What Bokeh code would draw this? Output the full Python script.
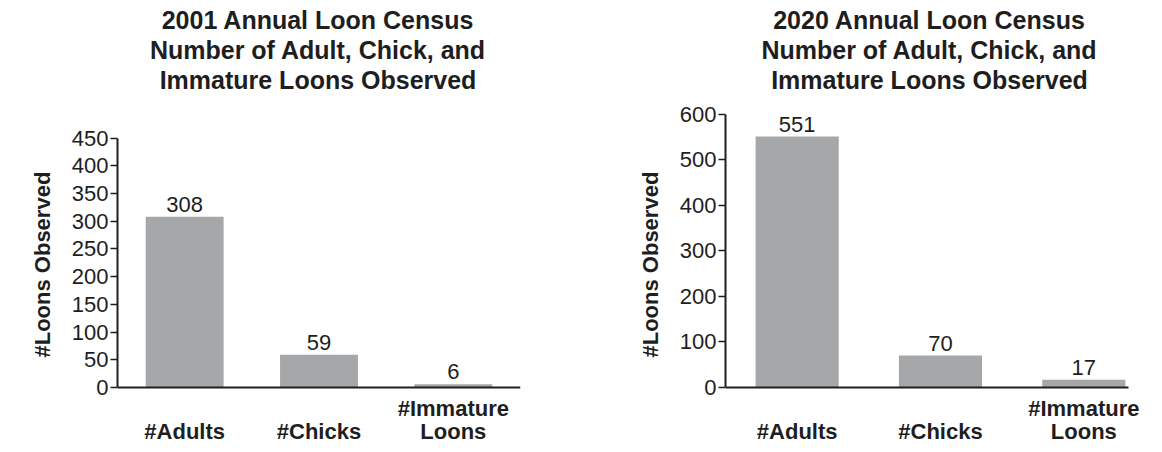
from bokeh.plotting import figure
from bokeh.layouts import row
from bokeh.models import Range1d, FactorRange, SingleIntervalTicker, Title
from bokeh.core.properties import value
from bokeh.embed import file_html
from bokeh.resources import INLINE

categories = ["#Adults", "#Chicks", "#Immature Loons"]
label_line1 = ["", "", "#Immature"]
label_line2 = ["#Adults", "#Chicks", "Loons"]
counts_2001 = [308, 59, 6]
counts_2020 = [551, 70, 17]
title_2001 = ["2001 Annual Loon Census", "Number of Adult, Chick, and", "Immature Loons Observed"]
title_2020 = ["2020 Annual Loon Census", "Number of Adult, Chick, and", "Immature Loons Observed"]
y_label = "#Loons Observed"

FONT = "Liberation Sans"
INK = "#1e1e1e"
BAR = "#a5a7a9"


def make(title_lines, vals, ymax, px_per_unit, interval, border_left, border_right, xbound, t_dx):
    H = 452
    zero_px = 387  # pixel row of the value axis origin
    y0 = -(H - zero_px) / px_per_unit
    y1 = zero_px / px_per_unit
    p = figure(width=581, height=H, output_backend="svg", toolbar_location=None,
               x_range=FactorRange(*categories, range_padding=0),
               y_range=Range1d(y0, y1),
               min_border_left=border_left, min_border_right=border_right,
               min_border_bottom=0, min_border_top=0)
    p.title = None
    p.outline_line_color = None
    p.xgrid.grid_line_color = None
    p.ygrid.grid_line_color = None
    p.background_fill_color = "white"
    p.border_fill_color = "white"

    p.vbar(x=categories, top=vals, width=0.58, fill_color=BAR, line_color=None)
    p.text(x=categories, y=vals, text=[str(v) for v in vals], text_align="center",
           text_baseline="bottom", y_offset=-5, text_font=value(FONT),
           text_font_size="22px", text_color=INK)

    # chart title: three centred lines at the top
    n = len(title_lines)
    p.text(x=[categories[1]] * n, y=[y1] * n, text=title_lines,
           x_offset=t_dx, y_offset=[33, 63, 93], text_align="center", text_baseline="bottom",
           text_font=value(FONT), text_font_size="25px", text_font_style="bold",
           text_color=INK)

    # category labels under the axis
    for labels, dy in ((label_line1, 33), (label_line2, 56)):
        p.text(x=categories, y=[0] * len(categories), text=labels, y_offset=dy,
               text_align="center", text_baseline="bottom", text_font=value(FONT),
               text_font_size="22px", text_font_style="bold", text_color=INK)

    ya = p.yaxis[0]
    ya.ticker = SingleIntervalTicker(interval=interval)
    ya.bounds = (0, ymax)
    ya.minor_tick_line_color = None
    ya.major_tick_in = 0
    ya.major_tick_out = 7
    ya.major_label_standoff = 2
    ya.axis_line_width = 2
    ya.axis_line_color = INK
    ya.major_tick_line_color = INK
    ya.major_tick_line_width = 1.5
    ya.major_label_text_font = FONT
    ya.major_label_text_font_size = "22px"
    ya.major_label_text_color = INK
    p.add_layout(Title(text=y_label, align="left", text_font=FONT, text_font_size="22px",
                       text_font_style="bold", text_color=INK, standoff=27,
                       offset=95), "left")

    xa = p.xaxis[0]
    xa.fixed_location = 0
    xa.major_tick_line_color = None
    xa.minor_tick_line_color = None
    xa.axis_line_width = 2
    xa.axis_line_color = INK
    xa.major_label_text_color = None
    xa.major_label_text_font_size = "1px"
    xa.major_label_standoff = 0
    if xbound is not None:
        xa.bounds = (0, xbound)
    return p


p1 = make(title_2001, counts_2001, 450, 249.4 / 450, 50, 117, 61, None, -1)
p2 = make(title_2020, counts_2020, 600, 273.3 / 600, 100, 144, 7, 2.81, -11)

layout = row(p1, p2)
open("out.html", "w").write(file_html(layout, INLINE))
